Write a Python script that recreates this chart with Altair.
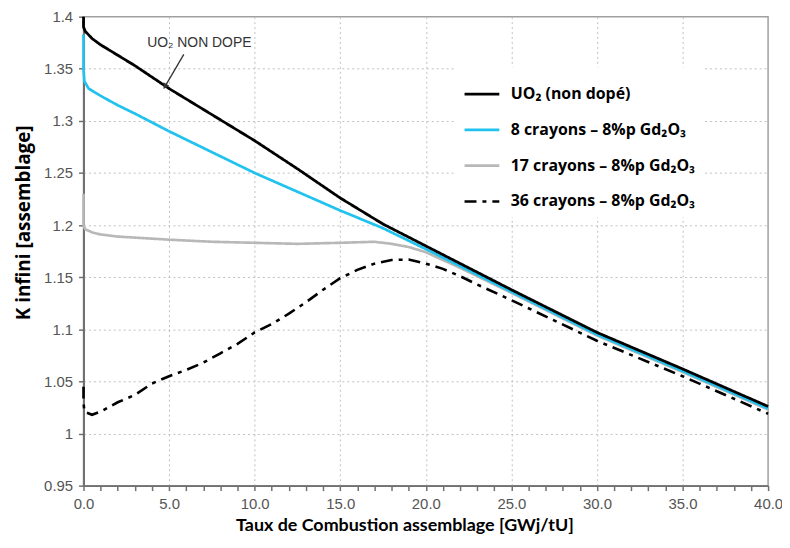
import altair as alt
import pandas as pd

# ---- series definitions ----
series_names = [
    "UO₂ (non dopé)",
    "8 crayons – 8%p Gd₂O₃",
    "17 crayons – 8%p Gd₂O₃",
    "36 crayons – 8%p Gd₂O₃",
]
series_colors = ["#000000", "#22c2ee", "#b8b8b8", "#000000"]
series_dash = [[1, 0], [1, 0], [1, 0], [12, 6, 4, 6]]
series_widths = [2.8, 2.6, 2.2, 2.8]

# UO2 non dopé
uo2_x = [0, 0, 0.1, 0.5, 1, 2, 3, 5, 7.5, 10, 12.5, 15, 17.5, 20, 25, 30, 35, 40]
uo2_y = [1.400, 1.390, 1.386, 1.379, 1.373, 1.363, 1.353, 1.331, 1.306, 1.281,
         1.254, 1.226, 1.201, 1.180, 1.138, 1.097, 1.062, 1.026]

# 8 crayons
c8_x = [0, 0, 0.05, 0.3, 1, 2, 3, 5, 7.5, 10, 12.5, 15, 17.5, 20, 25, 30, 35, 40]
c8_y = [1.383, 1.350, 1.338, 1.331, 1.324, 1.315, 1.307, 1.290, 1.270, 1.250,
        1.232, 1.214, 1.197, 1.177, 1.136, 1.095, 1.060, 1.024]

# 17 crayons
c17_x = [0, 0, 0.1, 0.5, 1, 2, 3, 5, 7.5, 10, 12.5, 15, 17, 18, 19, 20, 22, 25, 30, 35, 40]
c17_y = [1.230, 1.200, 1.196, 1.193, 1.191, 1.189, 1.188, 1.186, 1.184, 1.183,
         1.182, 1.183, 1.184, 1.182, 1.179, 1.174, 1.159, 1.135, 1.094, 1.059, 1.023]

# 36 crayons
c36_x = [0, 0, 0.05, 0.5, 1, 2, 3, 4, 5, 6, 7, 8, 9, 10, 11, 12, 13, 14, 15, 16,
         17, 18, 19, 20, 21, 22, 23, 25, 30, 35, 40]
c36_y = [1.045, 1.030, 1.021, 1.018, 1.021, 1.030, 1.037, 1.048, 1.055, 1.061,
         1.068, 1.077, 1.086, 1.097, 1.105, 1.115, 1.126, 1.138, 1.149, 1.157,
         1.163, 1.1665, 1.167, 1.163, 1.158, 1.151, 1.143, 1.128, 1.089, 1.055, 1.019]

# axis ticks
x_ticks = list(range(0, 41))
y_ticks = [0.95, 1.0, 1.05, 1.1, 1.15, 1.2, 1.25, 1.3, 1.35, 1.4]

# annotation
annot_text = ["UO₂ NON DOPE"]
annot_x = [3.72]
annot_y = [1.3743]
arrow_tail_x = [5.86]
arrow_tail_y = [1.3638]
arrow_head_x = [4.79]
arrow_head_y = [1.3338]

rows = []
for name, xs, ys in zip(series_names, [uo2_x, c8_x, c17_x, c36_x], [uo2_y, c8_y, c17_y, c36_y]):
    for i, (xv, yv) in enumerate(zip(xs, ys)):
        rows.append({"series": name, "x": xv, "y": yv, "idx": i})
df = pd.DataFrame(rows)

x_scale = alt.Scale(domain=[0, 40], nice=False, zero=False)
y_scale = alt.Scale(domain=[0.95, 1.4], nice=False, zero=False)

x_axis = alt.Axis(
    title="Taux de Combustion assemblage [GWj/tU]",
    values=x_ticks,
    tickCount=len(x_ticks),
    labelExpr="datum.value % 5 === 0 ? format(datum.value, '.1f') : ''",
    labelOverlap=False,
    labelFlush=False,
    gridOpacity={"condition": {"test": "datum.value % 5 === 0 && datum.value > 0 && datum.value < 40", "value": 1}, "value": 0},
    tickSize=5,
    labelPadding=6,
    titleX=323,
    titleY=40,
    titleAlign="center",
    titleBaseline="middle",
    titleFont="Lato",
    titleFontSize=18,
)
y_axis = alt.Axis(
    title="K infini [assemblage]",
    values=y_ticks,
    tickCount=len(y_ticks),
    format="~g",
    labelFlush=False,
    labelOverlap=False,
    gridOpacity={"condition": {"test": "datum.value > 0.96 && datum.value < 1.39", "value": 1}, "value": 0},
    tickSize=5,
    labelPadding=6,
    titleX=-60,
    titleY=207,
    titleAlign="center",
    titleBaseline="middle",
    titleFont="Open Sans",
    titleFontSize=19,
)

color_enc = alt.Color(
    "series:N",
    scale=alt.Scale(domain=series_names, range=series_colors),
    legend=alt.Legend(
        title=None,
        orient="none",
        legendX=374,
        legendY=51,
        fillColor="white",
        padding=8,
        labelFont="Open Sans",
        labelFontSize=16,
        labelFontWeight="bold",
        labelColor="#000000",
        symbolType="stroke",
        symbolSize=1225,
        symbolStrokeWidth=2.6,
        labelOffset=10,
        rowPadding=9,
        labelLimit=0,
    ),
)
dash_enc = alt.StrokeDash(
    "series:N",
    scale=alt.Scale(domain=series_names, range=series_dash),
    legend=alt.Legend(title=None),
)
width_enc = alt.StrokeWidth(
    "series:N",
    scale=alt.Scale(domain=series_names, range=series_widths),
    legend=None,
)

base = alt.Chart(df).mark_line().encode(
    x=alt.X("x:Q", scale=x_scale, axis=x_axis),
    y=alt.Y("y:Q", scale=y_scale, axis=y_axis),
    color=color_enc,
    strokeDash=dash_enc,
    strokeWidth=width_enc,
    order="idx:Q",
)

draw_order = [series_names[3], series_names[2], series_names[1], series_names[0]]
line_layers = [base.transform_filter(alt.datum.series == n) for n in draw_order]

annot_df = pd.DataFrame({"t": annot_text, "x": annot_x, "y": annot_y})
text_layer = alt.Chart(annot_df).mark_text(
    align="left", baseline="middle", font="Liberation Sans", fontSize=14, color="#333333"
).encode(x="x:Q", y="y:Q", text="t:N")

arrow_df = pd.DataFrame({"x": arrow_tail_x, "y": arrow_tail_y, "x2": arrow_head_x, "y2": arrow_head_y})
arrow_line = alt.Chart(arrow_df).mark_rule(color="#333333", strokeWidth=1.3).encode(
    x="x:Q", y="y:Q", x2="x2:Q", y2="y2:Q"
)
head_df = pd.DataFrame({"x": arrow_head_x, "y": arrow_head_y})
arrow_head = alt.Chart(head_df).mark_point(
    shape="triangle", filled=True, angle=210, size=45, color="#333333", opacity=1
).encode(x="x:Q", y="y:Q")

chart = alt.layer(*line_layers, text_layer, arrow_line, arrow_head).properties(
    width=689,
    height=472,
    padding={"left": 76, "top": 7, "right": 14, "bottom": 53},
    autosize=alt.AutoSizeParams(type="none"),
).configure_view(
    stroke="#a0a0a0", strokeWidth=1.5
).configure_axis(
    gridColor="#c0c0c0",
    gridDash=[2, 3],
    gridWidth=1,
    domainColor="#707070",
    domainWidth=2,
    tickColor="#707070",
    tickWidth=1.5,
    labelFont="Liberation Sans",
    labelFontSize=15,
    labelColor="#555555",
    titleFontWeight="bold",
    titleColor="#000000",
)

chart.save("out.html", embed_options={"renderer": "svg", "actions": False})
